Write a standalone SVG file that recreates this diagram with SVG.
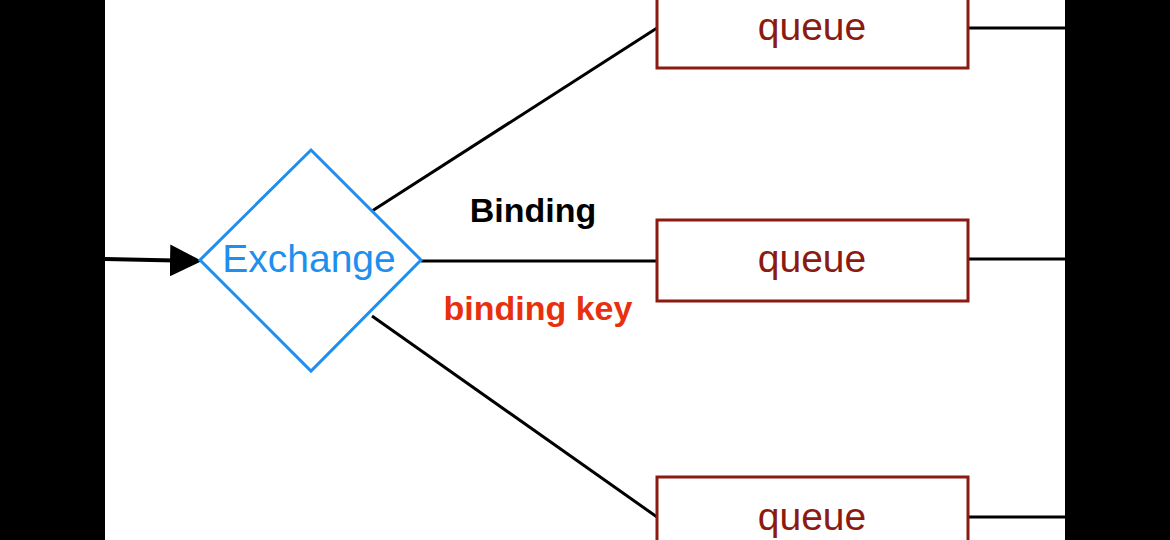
<svg xmlns="http://www.w3.org/2000/svg" width="1170" height="540" viewBox="0 0 1170 540">
<defs>
<style>
.q rect{fill:#fff;stroke:#8B1A10;stroke-width:3}
.q text{font-family:"Liberation Sans",Arial,sans-serif;font-size:39px;fill:#8B1A10;text-anchor:middle}
.c line{stroke:#000;stroke-width:3}
.lbl{font-family:"Liberation Sans",Arial,sans-serif;font-weight:bold;font-size:34px}
</style>
<marker id="ah" markerWidth="8" markerHeight="8" refX="7" refY="4" orient="auto" markerUnits="strokeWidth">
<path d="M0,0 L8,4 L0,8 z" fill="#000"/>
</marker>
</defs>
<rect x="0" y="0" width="1170" height="540" fill="#000"/>
<rect x="105" y="0" width="960" height="540" fill="#fff"/>
<g class="c" id="connectors">
<line x1="105" y1="259" x2="198" y2="261" style="stroke-width:4" marker-end="url(#ah)"/>
<line x1="372" y1="211" x2="657" y2="28"/>
<line x1="421" y1="261" x2="657" y2="261"/>
<line x1="372" y1="316" x2="657" y2="517"/>
<line x1="968" y1="28" x2="1065" y2="28"/>
<line x1="968" y1="259" x2="1065" y2="259"/>
<line x1="968" y1="517" x2="1065" y2="517"/>
</g>
<g id="exchange">
<polygon points="311,150 421,260 311,371 200,260" fill="#fff" stroke="#1E8FEF" stroke-width="3"/>
<text x="309" y="272" font-family="Liberation Sans,Arial,sans-serif" font-size="39" fill="#1E8FEF" text-anchor="middle">Exchange</text>
</g>
<g id="queue1" class="q">
<rect x="657" y="-13" width="311" height="81"/>
<text x="812" y="40">queue</text>
</g>
<g id="queue2" class="q">
<rect x="657" y="220" width="311" height="81"/>
<text x="812" y="272">queue</text>
</g>
<g id="queue3" class="q">
<rect x="657" y="477" width="311" height="81"/>
<text x="812" y="530">queue</text>
</g>
<text class="lbl" x="533" y="222" text-anchor="middle" fill="#000">Binding</text>
<text class="lbl" x="538" y="320" text-anchor="middle" fill="#E8300F">binding key</text>
</svg>
